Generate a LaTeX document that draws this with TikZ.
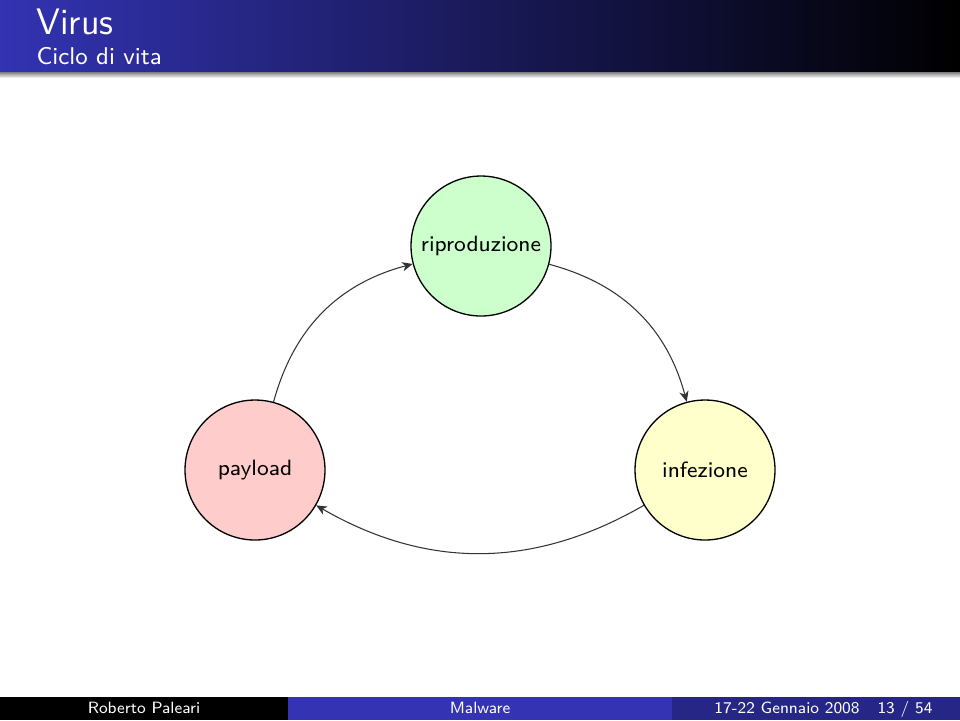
\documentclass[tikz,border=0pt]{standalone}
\usetikzlibrary{arrows.meta}
\definecolor{bstruct}{RGB}{51,51,179}
\definecolor{bdark}{RGB}{38,38,134}
\definecolor{cgreen}{RGB}{204,255,204}
\definecolor{cpink}{RGB}{255,204,204}
\definecolor{cyellow}{RGB}{255,255,204}
\tikzset{
  state/.style={circle, draw=black, line width=0.5pt, minimum size=1.8667cm, inner sep=0pt,
    font=\sffamily\fontsize{8.4}{10}\selectfont},
  flow/.style={draw=black!80, line width=0.4pt, -{Stealth[length=4pt,width=3.5pt,inset=1.2pt]}, bend left=30},
  foottext/.style={text=white, font=\sffamily\fontsize{6.2}{7}\selectfont, inner sep=0pt, anchor=base}
}
\begin{document}
\begin{tikzpicture}[x=0.0133333cm,y=-0.0133333cm]
\useasboundingbox (0,0) rectangle (960,720);
% header
\shade[left color=bstruct, right color=black, middle color=bstruct!50!black] (0,0) rectangle (960,72);
\shade[top color=black!50, bottom color=white] (0,72) rectangle (960,78);
\node[text=white, font=\sffamily\fontsize{14}{16}\selectfont, anchor=base west, inner sep=0pt] (title) at (36,34) {Virus};
\node[text=white, font=\sffamily\fontsize{9.2}{11}\selectfont, anchor=base west, inner sep=0pt] (subtitle) at (36,64) {Ciclo di vita};
% footer
\fill[black] (0,697) rectangle (288,720);
\fill[bstruct] (288,697) rectangle (672,720);
\fill[bdark] (672,697) rectangle (960,720);
\node[foottext] (author) at (144,713) {Roberto Paleari};
\node[foottext] (talk) at (480,713) {Malware};
\node[foottext] (date) at (787,713) {17-22 Gennaio 2008};
\node[foottext] (page) at (905,713) {13 / 54};
% diagram
\node[state, fill=cgreen] (rip) at (481,246) {riproduzione};
\node[state, fill=cpink] (pay) at (255,470) {payload};
\node[state, fill=cyellow] (inf) at (705,470) {infezione};
\draw[flow] (pay) to (rip);
\draw[flow] (rip) to (inf);
\draw[flow] (inf) to (pay);
\end{tikzpicture}
\end{document}
